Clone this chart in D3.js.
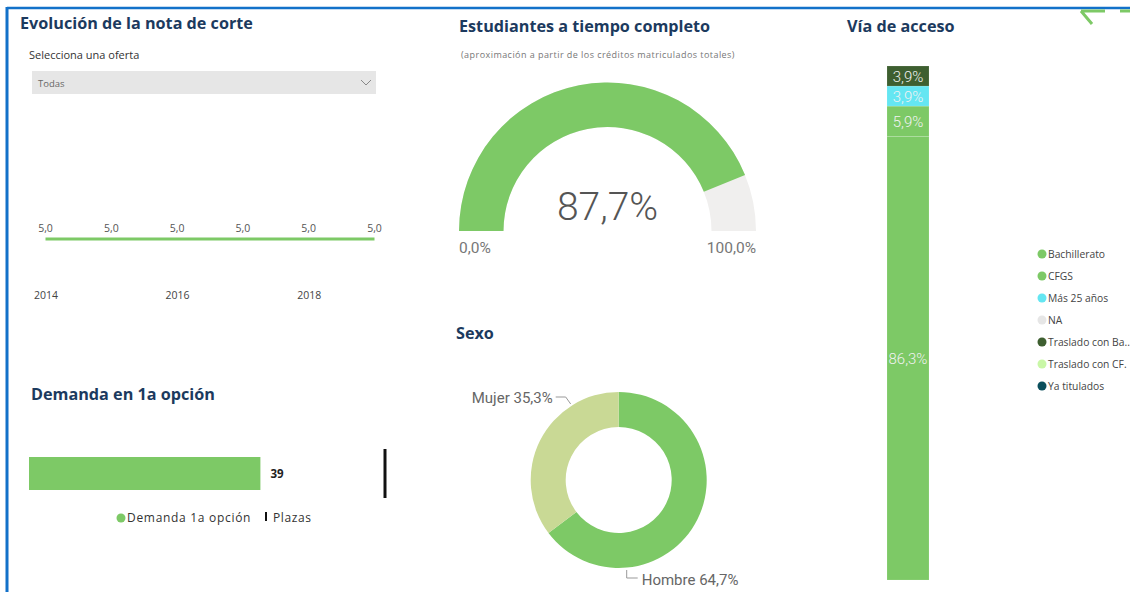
<!DOCTYPE html>
<html>
<head>
<meta charset="utf-8">
<script src="https://cdn.jsdelivr.net/npm/d3@7"></script>
<style>
  body { margin: 0; background: #fff; }
  svg { display: block; font-family: "Open Sans", sans-serif; }
  .title { font-weight: 700; font-size: 16.2px; fill: #1c3a5e; }
</style>
</head>
<body>
<svg id="chart" width="1130" height="592"></svg>
<script>
// datos
var years = [2014, 2015, 2016, 2017, 2018, 2019];
var notaCorte = [5.0, 5.0, 5.0, 5.0, 5.0, 5.0];
var yearTicks = [2014, 2016, 2018];

var tiempoCompleto = 87.7;

var demandaLabels = ["Demanda 1a opción", "Plazas"];
var demanda = 39;
var plazas = 60;

var sexoCats = ["Hombre", "Mujer"];
var sexoVals = [64.7, 35.3];

var accesoCats = ["Bachillerato", "CFGS", "Más 25 años", "NA", "Traslado con Ba..", "Traslado con CF.", "Ya titulados"];
var accesoVals = [86.3, 5.9, 3.9, 0, 3.9, 0, 0];
var accesoColors = ["#7dc966", "#7dc966", "#64e6f2", "#e6e6e6", "#3e5f30", "#c9f7a6", "#0b4f5c"];

var green = "#7dc966";
var fmt = function(v) { return d3.format(".1f")(v).replace(".", ","); };

var svg = d3.select("#chart");

// marco
svg.append("line").attr("x1", 7).attr("x2", 1130).attr("y1", 8).attr("y2", 8)
    .attr("stroke", "#1271c9").attr("stroke-width", 2.5);
svg.append("line").attr("x1", 7).attr("x2", 7).attr("y1", 7).attr("y2", 592)
    .attr("stroke", "#1271c9").attr("stroke-width", 3);

// flecha verde arriba a la derecha
var arrow = svg.append("g").attr("stroke", green).attr("stroke-width", 3).attr("fill", "none");
arrow.append("path").attr("d", "M1105,11 L1081,11 M1081,11 L1092,24");
arrow.append("path").attr("d", "M1120,11 L1130,11");

// ---- Evolución de la nota de corte ----
svg.append("text").attr("class", "title").attr("x", 20).attr("y", 29).text("Evolución de la nota de corte");
svg.append("text").attr("x", 29).attr("y", 59).attr("font-size", 11).attr("fill", "#333")
    .text("Selecciona una oferta");
svg.append("rect").attr("x", 32).attr("y", 71).attr("width", 344).attr("height", 23).attr("fill", "#e6e6e6");
svg.append("text").attr("x", 38).attr("y", 87).attr("font-size", 9.5).attr("fill", "#666").text("Todas");
svg.append("path").attr("d", "M361,80 L366,85 L371,80").attr("fill", "none").attr("stroke", "#888").attr("stroke-width", 1);

var x = d3.scaleLinear().domain([2014, 2019]).range([45.5, 374.5]);
var y = d3.scaleLinear().domain([0, 10]).range([335, 143]);

var line = d3.line()
    .x(function(d, i) { return x(years[i]); })
    .y(function(d) { return y(d); });

svg.append("path").datum(notaCorte)
    .attr("d", line)
    .attr("fill", "none").attr("stroke", green).attr("stroke-width", 3);

svg.selectAll(".lbl").data(notaCorte).enter().append("text")
    .attr("x", function(d, i) { return x(years[i]); })
    .attr("y", function(d) { return y(d) - 7; })
    .attr("text-anchor", "middle").attr("font-size", 10.5).attr("fill", "#555")
    .text(function(d) { return fmt(d); });

var xaxis = svg.append("g")
    .attr("transform", "translate(0,283)")
    .call(d3.axisBottom(x).tickValues(yearTicks).tickFormat(d3.format("d")).tickSize(0).tickPadding(9));
xaxis.select(".domain").remove();
xaxis.selectAll("text").attr("font-size", 10.5).attr("fill", "#444").attr("font-family", "Open Sans, sans-serif");

// ---- Demanda en 1a opción ----
svg.append("text").attr("class", "title").attr("x", 31).attr("y", 400).text("Demanda en 1a opción");

var xb = d3.scaleLinear().domain([0, plazas]).range([29, 385]);
svg.append("rect").attr("x", xb(0)).attr("y", 457).attr("width", xb(demanda) - xb(0)).attr("height", 33)
    .attr("fill", green);
svg.append("text").attr("x", xb(demanda) + 10).attr("y", 478).attr("font-size", 11.5).attr("font-weight", 700)
    .attr("fill", "#222").text(demanda);
svg.append("line").attr("x1", xb(plazas)).attr("x2", xb(plazas)).attr("y1", 449).attr("y2", 498)
    .attr("stroke", "#111").attr("stroke-width", 3);

svg.append("circle").attr("cx", 121).attr("cy", 518).attr("r", 4.5).attr("fill", green);
svg.append("text").attr("x", 127).attr("y", 522).attr("font-size", 12).attr("fill", "#333")
    .attr("letter-spacing", 0.7).text(demandaLabels[0]);
svg.append("line").attr("x1", 266).attr("x2", 266).attr("y1", 512).attr("y2", 521)
    .attr("stroke", "#111").attr("stroke-width", 2);
svg.append("text").attr("x", 273).attr("y", 522).attr("font-size", 12).attr("fill", "#333")
    .attr("letter-spacing", 0.6).text(demandaLabels[1]);

// ---- Estudiantes a tiempo completo ----
svg.append("text").attr("class", "title").attr("x", 459).attr("y", 32).text("Estudiantes a tiempo completo");
svg.append("text").attr("x", 461).attr("y", 58).attr("font-size", 9).attr("fill", "#777")
    .attr("letter-spacing", 0.45)
    .text("(aproximación a partir de los créditos matriculados totales)");

var gx = 607.5, gy = 231;
var gauge = svg.append("g").attr("transform", "translate(" + gx + "," + gy + ")");
var ga = d3.scaleLinear().domain([0, 100]).range([-Math.PI / 2, Math.PI / 2]);
var garc = d3.arc().innerRadius(104).outerRadius(148.5);
gauge.append("path").attr("d", garc({startAngle: ga(0), endAngle: ga(100)})).attr("fill", "#f0efee");
gauge.append("path").attr("d", garc({startAngle: ga(0), endAngle: ga(tiempoCompleto)})).attr("fill", green);
gauge.append("text").attr("x", 0).attr("y", -11).attr("text-anchor", "middle")
    .attr("font-family", "Roboto, sans-serif").attr("font-weight", 300).attr("font-size", 39).attr("fill", "#555")
    .text(fmt(tiempoCompleto) + "%");
gauge.append("text").attr("x", -148.5).attr("y", 22).attr("font-size", 15.5).attr("fill", "#777")
    .attr("font-family", "Roboto, sans-serif").text(fmt(0) + "%");
gauge.append("text").attr("x", 148.5).attr("y", 22).attr("text-anchor", "end").attr("font-size", 15.5).attr("fill", "#777")
    .attr("font-family", "Roboto, sans-serif").text(fmt(100) + "%");

// ---- Sexo ----
svg.append("text").attr("class", "title").attr("x", 456).attr("y", 339).text("Sexo");

var dx = 618.7, dy = 480;
var donut = svg.append("g").attr("transform", "translate(" + dx + "," + dy + ")");
var pie = d3.pie().sort(null).value(function(d) { return d; });
var darc = d3.arc().innerRadius(53).outerRadius(88);
var sexoColor = d3.scaleOrdinal().domain(sexoCats).range([green, "#c9d995"]);
donut.selectAll("path").data(pie(sexoVals)).enter().append("path")
    .attr("d", darc)
    .attr("fill", function(d, i) { return sexoColor(sexoCats[i]); });

var lead = donut.append("g").attr("fill", "none").attr("stroke", "#999").attr("stroke-width", 1);
lead.append("path").attr("d", "M-48,-76 L-53,-83 L-63,-83");
lead.append("path").attr("d", "M8,90 L8,98 L19,98");
donut.append("text").attr("x", -66).attr("y", -77).attr("text-anchor", "end").attr("font-size", 15)
    .attr("fill", "#666").attr("font-family", "Roboto, sans-serif").text(sexoCats[1] + " " + fmt(sexoVals[1]) + "%");
donut.append("text").attr("x", 23).attr("y", 105).attr("font-size", 15)
    .attr("fill", "#666").attr("font-family", "Roboto, sans-serif").text(sexoCats[0] + " " + fmt(sexoVals[0]) + "%");

// ---- Vía de acceso ----
svg.append("text").attr("class", "title").attr("x", 847).attr("y", 32).text("Vía de acceso");

var ya = d3.scaleLinear().domain([0, 100]).range([580, 66]);
var stackData = [];
var acc = 0;
accesoVals.forEach(function(v, i) {
    stackData.push({cat: accesoCats[i], v: v, y0: acc, y1: acc + v, color: accesoColors[i]});
    acc += v;
});
var segs = svg.selectAll(".seg").data(stackData.filter(function(d) { return d.v > 0; })).enter().append("g");
segs.append("rect")
    .attr("x", 887).attr("width", 42)
    .attr("y", function(d) { return ya(d.y1); })
    .attr("height", function(d) { return ya(d.y0) - ya(d.y1); })
    .attr("fill", function(d) { return d.color; })
    .attr("stroke", "#fff").attr("stroke-opacity", 0.25).attr("stroke-width", 0.5);
segs.append("text")
    .attr("x", 908)
    .attr("y", function(d) { return (ya(d.y0) + ya(d.y1)) / 2 + 5.5; })
    .attr("text-anchor", "middle").attr("font-size", 15).attr("fill", "#f2f2f2")
    .attr("font-family", "Roboto, sans-serif").attr("font-weight", 300)
    .text(function(d) { return fmt(d.v) + "%"; });

var leg = svg.selectAll(".leg").data(accesoCats).enter().append("g")
    .attr("transform", function(d, i) { return "translate(1042," + (254 + i * 22) + ")"; });
leg.append("circle").attr("r", 4.5).attr("fill", function(d, i) { return accesoColors[i]; });
leg.append("text").attr("x", 6).attr("y", 4).attr("font-size", 10.3).attr("fill", "#444")
    .text(function(d) { return d; });
</script>
</body>
</html>
